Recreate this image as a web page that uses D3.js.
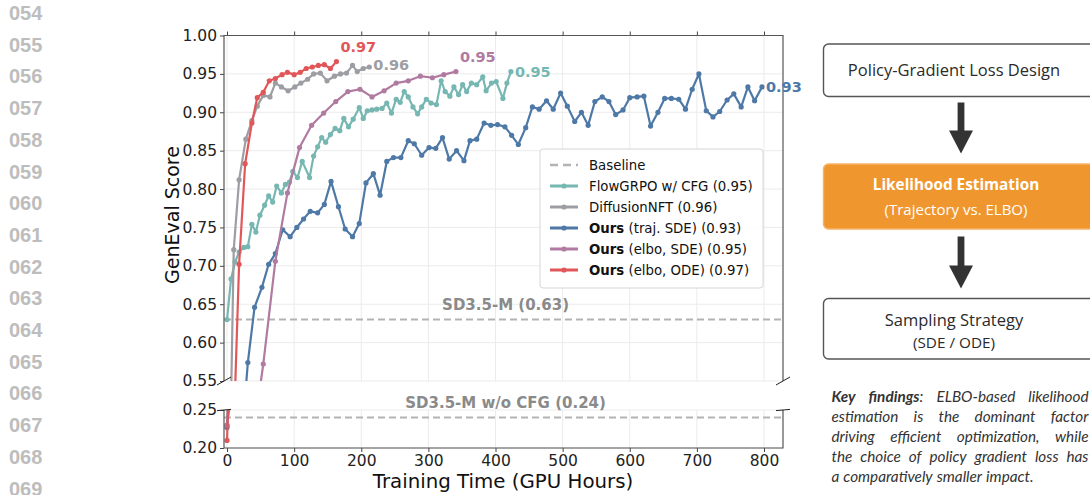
<!DOCTYPE html>
<html lang="en">
<head>
<meta charset="UTF-8">
<title>GenEval score vs training time</title>
<script src="https://d3js.org/d3.v7.min.js"></script>
<style>
  body { margin: 0; background: #fff; }
  svg text { font-family: "DejaVu Sans", sans-serif; }
  .flow text { font-family: "Open Sans", sans-serif; }
  .note text { font-family: "Lato", sans-serif; font-style: italic; }
</style>
</head>
<body>
<svg id="chart" width="1090" height="495"></svg>
<script>
// ---- data ----
const hourTicks = [0, 100, 200, 300, 400, 500, 600, 700, 800];
const topTicks = [0.55, 0.60, 0.65, 0.70, 0.75, 0.80, 0.85, 0.90, 0.95, 1.00];
const botTicks = [0.20, 0.25];
const lineNumbers = ["054","055","056","057","058","059","060","061","062","063","064","065","066","067","068","069"];

// [GPU hours, GenEval]
const flowgrpo = [[0,.630],[6,.683],[12,.705],[18,.718],[25,.724],[31,.725],[37,.754],[43,.744],[49,.766],[56,.779],
  [62,.791],[68,.783],[74,.804],[81,.795],[87,.806],[93,.809],[98,.823],[105,.815],[112,.836],[123,.815],[129,.843],
  [135,.855],[141,.867],[147,.861],[154,.871],[161,.879],[168,.876],[174,.892],[181,.881],[188,.891],[197,.906],
  [203,.892],[209,.902],[216,.903],[223,.904],[231,.905],[238,.912],[245,.899],[252,.917],[258,.913],[264,.927],
  [270,.920],[277,.907],[284,.898],[290,.907],[297,.917],[304,.912],[312,.910],[319,.941],[325,.927],[332,.921],
  [338,.933],[345,.923],[351,.936],[357,.927],[364,.938],[372,.936],[381,.946],[386,.928],[394,.938],[401,.940],
  [411,.918],[417,.938],[423,.953]];
const diffusionNFT = [[0,.230],[10,.721],[18,.812],[28,.865],[37,.889],[45,.908],[54,.922],[64,.920],[72,.938],
  [81,.933],[91,.928],[101,.933],[110,.938],[120,.943],[129,.950],[139,.951],[149,.941],[160,.947],[169,.950],
  [178,.951],[187,.961],[194,.953],[203,.957],[212,.959]];
const oursTraj = [[0,.227],[31,.574],[41,.646],[52,.672],[62,.702],[72,.716],[83,.747],[94,.738],[104,.750],
  [114,.761],[124,.771],[135,.769],[145,.780],[155,.810],[166,.777],[176,.748],[187,.738],[197,.755],[207,.808],
  [218,.820],[228,.792],[238,.836],[248,.841],[259,.841],[270,.863],[279,.859],[290,.844],[301,.854],[311,.853],
  [321,.867],[331,.839],[342,.850],[353,.837],[362,.863],[372,.865],[383,.886],[393,.883],[403,.884],[414,.881],
  [424,.870],[434,.858],[445,.880],[455,.907],[465,.904],[476,.915],[486,.904],[497,.925],[507,.908],[518,.888],
  [528,.900],[538,.883],[548,.914],[559,.920],[569,.914],[579,.897],[590,.903],[600,.919],[611,.920],[621,.921],
  [631,.882],[642,.900],[652,.918],[662,.918],[673,.917],[683,.904],[693,.930],[703,.950],[714,.902],[724,.894],
  [734,.901],[745,.916],[755,.924],[766,.907],[776,.933],[786,.915],[797,.933]];
const oursElboSDE = [[0,.230],[54,.572],[72,.706],[90,.795],[108,.854],[126,.883],[144,.899],[162,.914],[180,.927],
  [198,.930],[216,.920],[234,.928],[252,.938],[270,.941],[288,.947],[306,.945],[323,.949],[341,.953]];
const oursElboODE = [[0,.210],[18,.702],[27,.833],[37,.886],[45,.919],[54,.926],[63,.941],[72,.944],[82,.949],
  [90,.952],[100,.949],[109,.952],[118,.957],[127,.959],[136,.961],[145,.962],[154,.957],[163,.966]];

const seriesNames = ["FlowGRPO w/ CFG (0.95)", "DiffusionNFT (0.96)", "Ours (traj. SDE) (0.93)",
  "Ours (elbo, SDE) (0.95)", "Ours (elbo, ODE) (0.97)"];
const finalLabels = ["0.95", "0.96", "0.93", "0.95", "0.97"];
const baselineNames = ["SD3.5-M (0.63)", "SD3.5-M w/o CFG (0.24)"];
const baselineValues = [0.63, 0.24];

const noteLines = [
  "**Key** **findings**: ELBO-based likelihood",
  "estimation is the dominant factor",
  "driving efficient optimization, while",
  "the choice of policy gradient loss has",
  "a comparatively smaller impact."
];

// ---- layout ----
const colors = ["#76b7b2", "#9d9ea3", "#4e79a7", "#b07aa1", "#e15759"];
const allSeries = [flowgrpo, diffusionNFT, oursTraj, oursElboSDE, oursElboODE];
// small nudges for the end-of-line value labels
const labelShift = [[4, 0], [4, -2], [4, 0], [4, -15], [4, -15]];

const svg = d3.select("#chart");
const x = d3.scaleLinear().domain([-4.5, 828.3]).range([224, 783]);
const yTop = d3.scaleLinear().domain([0.55, 1.0]).range([381, 35.5]);
const yBot = d3.scaleLinear().domain([0.20, 0.25]).range([448, 410]);

const panels = [
  { id: "top", y: yTop, ticks: topTicks },
  { id: "bot", y: yBot, ticks: botTicks }
];

// margin line numbers
svg.append("g").selectAll("text").data(lineNumbers).join("text")
  .attr("x", 9).attr("y", (d, i) => 13 + i * 31.7).attr("dy", "0.35em")
  .style("font-family", "'Liberation Sans', Arial, sans-serif")
  .attr("font-weight", "bold").attr("font-size", 20).attr("fill", "#bdbdbd")
  .text(d => d);

const defs = svg.append("defs");

panels.forEach(p => {
  const top = Math.min(...p.y.range()), bottom = Math.max(...p.y.range());
  defs.append("clipPath").attr("id", "clip-" + p.id)
    .append("rect").attr("x", x.range()[0]).attr("y", top)
    .attr("width", x.range()[1] - x.range()[0]).attr("height", bottom - top);

  const g = svg.append("g");
  // grid
  g.selectAll(".vg").data(hourTicks).join("line")
    .attr("x1", d => x(d)).attr("x2", d => x(d)).attr("y1", top).attr("y2", bottom)
    .attr("stroke", "#ebebeb").attr("stroke-width", 1);
  g.selectAll(".hg").data(p.ticks).join("line")
    .attr("x1", x.range()[0]).attr("x2", x.range()[1]).attr("y1", d => p.y(d)).attr("y2", d => p.y(d))
    .attr("stroke", "#ebebeb").attr("stroke-width", 1);

  // baseline
  const bi = p.id === "top" ? 0 : 1;
  g.append("line")
    .attr("x1", x.range()[0]).attr("x2", x.range()[1])
    .attr("y1", p.y(baselineValues[bi])).attr("y2", p.y(baselineValues[bi]))
    .attr("stroke", "#b3b3b3").attr("stroke-width", 2).attr("stroke-dasharray", "7,4");
  g.append("text")
    .attr("x", x(415)).attr("y", p.y(baselineValues[bi]) - 10)
    .attr("text-anchor", "middle").attr("font-weight", "bold").attr("font-size", 15)
    .attr("fill", "#8a8a8a").text(baselineNames[bi]);

  // series
  const plot = g.append("g").attr("clip-path", `url(#clip-${p.id})`);
  const line = d3.line().x(d => x(d[0])).y(d => p.y(d[1]));
  allSeries.forEach((s, i) => {
    plot.append("path").datum(s).attr("d", line)
      .attr("fill", "none").attr("stroke", colors[i]).attr("stroke-width", 2.2)
      .attr("stroke-linejoin", "round");
    plot.selectAll(null).data(s).join("circle")
      .attr("cx", d => x(d[0])).attr("cy", d => p.y(d[1])).attr("r", 2.6)
      .attr("fill", colors[i]);
  });

  // axes
  const yAxis = d3.axisLeft(p.y).tickValues(p.ticks).tickFormat(d3.format(".2f"))
    .tickSize(4).tickPadding(3);
  const ya = g.append("g").attr("transform", `translate(${x.range()[0]},0)`).call(yAxis);
  const xAxis = p.id === "top"
    ? d3.axisTop(x).tickValues(hourTicks).tickFormat("").tickSize(4)
    : d3.axisBottom(x).tickValues(hourTicks).tickSize(4).tickPadding(3);
  const xa = g.append("g").attr("transform", `translate(0,${p.id === "top" ? top : bottom})`).call(xAxis);
  [ya, xa].forEach(a => {
    a.select(".domain").remove();
    a.selectAll("line").attr("stroke", "#444");
    a.selectAll("text").attr("font-size", 15.5).attr("fill", "#222")
      .style("font-family", "'DejaVu Sans', sans-serif");
  });

  // spines
  const sp = g.append("g").attr("stroke", "#555").attr("stroke-width", 1.2).attr("fill", "none");
  const L = x.range()[0], R = x.range()[1];
  if (p.id === "top") sp.append("path").attr("d", `M${L},${bottom}V${top}H${R}V${bottom}`);
  else sp.append("path").attr("d", `M${L},${top}V${bottom}H${R}V${top}`);
  // break marks
  const edge = p.id === "top" ? bottom : top;
  const dy = p.id === "top" ? 4 : 0.6;
  [L, R].forEach(cx => {
    sp.append("line").attr("x1", cx - 7).attr("y1", edge + dy).attr("x2", cx + 7).attr("y2", edge - dy)
      .attr("stroke", "#222").attr("stroke-width", 1);
  });
});

// end-of-line value labels
allSeries.forEach((s, i) => {
  const last = s[s.length - 1];
  svg.append("text")
    .attr("x", x(last[0]) + labelShift[i][0]).attr("y", yTop(last[1]) + labelShift[i][1])
    .attr("dy", "0.35em").attr("font-weight", "bold").attr("font-size", 14.5)
    .attr("fill", colors[i]).text(finalLabels[i]);
});

// axis titles
svg.append("text").attr("transform", "translate(172,215) rotate(-90)")
  .attr("text-anchor", "middle").attr("dy", "0.35em").attr("font-size", 19).attr("fill", "#111")
  .text("GenEval Score");
svg.append("text").attr("x", 503).attr("y", 481).attr("dy", "0.35em")
  .attr("text-anchor", "middle").attr("font-size", 19.8).attr("fill", "#111")
  .text("Training Time (GPU Hours)");

// legend
const leg = svg.append("g").attr("transform", "translate(540,149)");
leg.append("rect").attr("width", 223).attr("height", 139).attr("rx", 3)
  .attr("fill", "#fff").attr("fill-opacity", 0.9).attr("stroke", "#d6d6d6");
const legItems = [{ name: "Baseline", color: "#b3b3b3", dashed: true }]
  .concat(seriesNames.map((n, i) => ({ name: n, color: colors[i], dashed: false })));
legItems.forEach((it, i) => {
  const gy = 16 + i * 21;
  const row = leg.append("g").attr("transform", `translate(0,${gy})`);
  row.append("line").attr("x1", 10).attr("x2", 38).attr("stroke", it.color)
    .attr("stroke-width", it.dashed ? 2.4 : 3).attr("stroke-dasharray", it.dashed ? "8,5" : null);
  if (!it.dashed) row.append("circle").attr("cx", 24).attr("r", 2.6).attr("fill", it.color);
  const t = row.append("text").attr("x", 49).attr("dy", "0.35em").attr("font-size", 13.3).attr("fill", "#111");
  if (it.name.startsWith("Ours")) {
    t.append("tspan").attr("font-weight", "bold").text("Ours");
    t.append("tspan").text(it.name.slice(4));
  } else t.text(it.name);
});

// ---- flow diagram ----
const flow = svg.append("g").attr("class", "flow");
const boxL = 823.5, boxR = 1100, cx = 954;
function box(y0, y1, fill, stroke) {
  flow.append("rect").attr("x", boxL).attr("y", y0).attr("width", boxR - boxL).attr("height", y1 - y0)
    .attr("rx", 5).attr("fill", fill).attr("stroke", stroke).attr("stroke-width", 1.4);
}
function arrow(y0, y1) {
  const ax = 961;
  flow.append("rect").attr("x", ax - 3.4).attr("y", y0).attr("width", 6.8).attr("height", y1 - y0 - 20)
    .attr("fill", "#333");
  flow.append("path").attr("d", `M${ax - 12},${y1 - 23}L${ax + 12},${y1 - 23}L${ax},${y1}Z`).attr("fill", "#333");
}
box(44, 96.5, "#fff", "#555");
flow.append("text").attr("x", cx).attr("y", 70.5).attr("dy", "0.35em").attr("text-anchor", "middle")
  .attr("font-size", 16.5).attr("fill", "#2b2b2b").text("Policy-Gradient Loss Design");
arrow(102.5, 153.5);
box(164, 229, "#f0962e", "#f6b46a");
flow.append("text").attr("x", cx + 2).attr("y", 185).attr("dy", "0.35em").attr("text-anchor", "middle")
  .attr("font-size", 15.3).attr("font-weight", "bold").attr("fill", "#fff").text("Likelihood Estimation");
flow.append("text").attr("x", cx + 2).attr("y", 209.5).attr("dy", "0.35em").attr("text-anchor", "middle")
  .attr("font-size", 15).attr("fill", "#fff").text("(Trajectory vs. ELBO)");
arrow(236.5, 288.5);
box(298.5, 359, "#fff", "#555");
flow.append("text").attr("x", cx).attr("y", 320).attr("dy", "0.35em").attr("text-anchor", "middle")
  .attr("font-size", 16.5).attr("fill", "#2b2b2b").text("Sampling Strategy");
flow.append("text").attr("x", cx).attr("y", 342.5).attr("dy", "0.35em").attr("text-anchor", "middle")
  .attr("font-size", 15.3).attr("fill", "#2b2b2b").text("(SDE / ODE)");

// ---- key findings note, justified ----
const note = svg.append("g").attr("class", "note");
const noteL = 831.5, noteR = 1088.5;
noteLines.forEach((ln, li) => {
  const y = 397 + li * 19.8;
  const words = ln.split(" ");
  const nodes = words.map(w => {
    const t = note.append("text").attr("y", y).attr("dy", "0.35em").attr("font-size", 15.3).attr("fill", "#333");
    const parts = w.split(/(\*\*[^*]+\*\*)/).filter(s => s);
    parts.forEach(s => {
      if (s.startsWith("**")) t.append("tspan").attr("font-weight", "bold").text(s.slice(2, -2));
      else t.append("tspan").text(s);
    });
    return t;
  });
  const widths = nodes.map(n => n.node().getComputedTextLength());
  const total = d3.sum(widths);
  const last = li === noteLines.length - 1;
  const gap = last ? 4 : Math.max(3, (noteR - noteL - total) / (words.length - 1));
  let cur = noteL;
  nodes.forEach((n, i) => { n.attr("x", cur); cur += widths[i] + gap; });
});
</script>
</body>
</html>
